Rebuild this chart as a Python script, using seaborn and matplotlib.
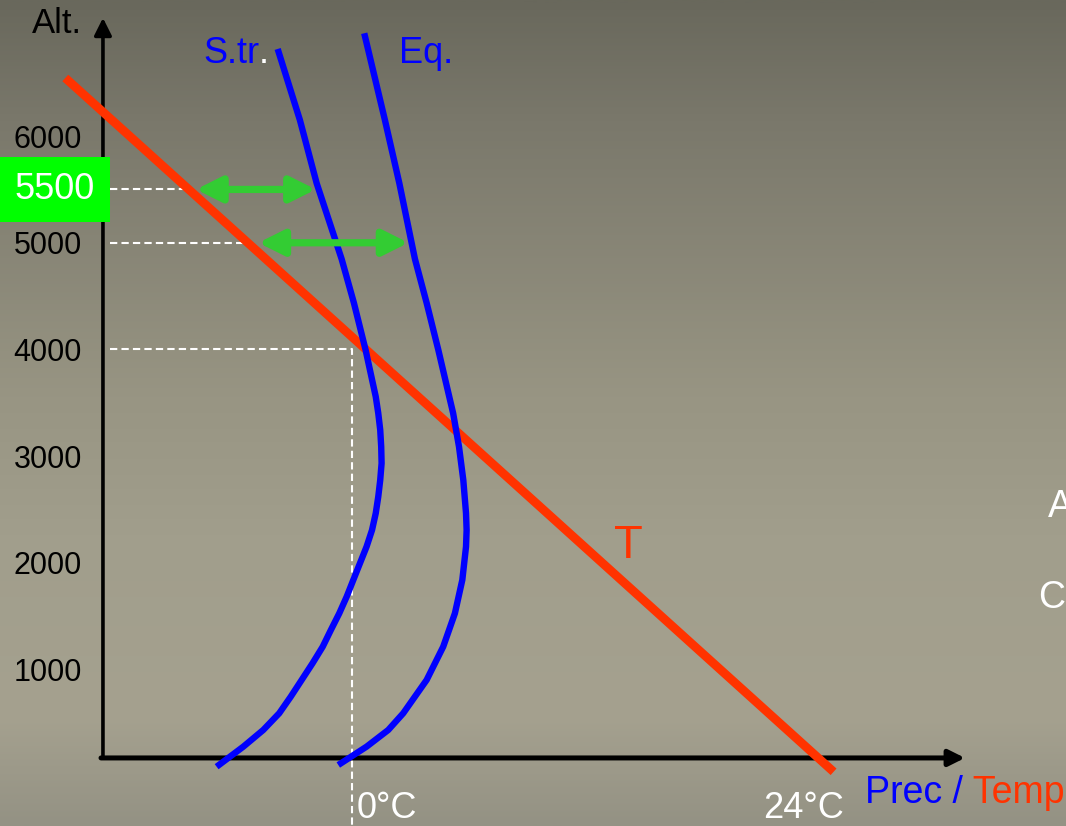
import numpy as np
import matplotlib.pyplot as plt
import seaborn as sns
from matplotlib.colors import LinearSegmentedColormap

sns.set_style('white')
plt.rcParams['font.family'] = ['Liberation Sans', 'DejaVu Sans']

# altitude ticks (m)
alt_ticks = [1000, 2000, 3000, 4000, 5000, 6000]
highlight_alt = 5500

# temperature line T  (x = deg C, y = altitude)
t_line_temp = [-14.7, 24.7]
t_line_alt = [6545, 40]

# precipitation curves (subtropics / equator)
str_x = [-3.81, -2.67, -1.81, -0.53, 0.10, 0.70, 1.22, 1.35, 1.45, 1.50,
         1.52, 1.45, 1.35, 1.22, 1.03, 0.75, 0.41, 0.07, -0.27, -0.65,
         -1.08, -1.50, -2.02, -2.58, -3.14, -3.73, -4.55, -5.57, -6.94]
str_alt = [6817, 6151, 5558, 4848, 4436, 3995, 3557, 3401, 3245, 3088,
           2933, 2776, 2620, 2464, 2307, 2151, 1995, 1839, 1682, 1526,
           1370, 1213, 1058, 901, 744, 589, 432, 276, 88]
eq_x = [0.63, 1.69, 2.43, 3.23, 3.83, 4.43, 4.99, 5.19, 5.49, 5.71,
        5.85, 5.88, 5.85, 5.66, 5.28, 4.68, 3.83, 2.63, 1.86, 0.75, -0.70]
eq_alt = [6964, 6151, 5558, 4848, 4436, 3995, 3557, 3401, 3088, 2776,
          2464, 2307, 2151, 1839, 1526, 1213, 901, 589, 432, 276, 104]

# green double arrows: altitude, start, end
arrow_alt = [5500, 5000]
arrow_from = [-8.0, -4.8]
arrow_to = [-1.85, 2.9]

# dashed guide levels and where they stop
guide_alt = [5500, 5000, 4000]
guide_end = [-8.4, -5.4, 0.0]

# axis frame
x_origin, alt_origin = -12.77, 170
x_end, alt_top = 31.44, 7108
xlim = (-18.05, 36.62)
ylim = (-468, 7276)

red = '#ff3300'
blue = '#0000ff'
green = '#33cc33'

fig = plt.figure(figsize=(10.66, 8.26), dpi=100)
ax = fig.add_axes([0, 0, 1, 1])

# background gradient
bg = LinearSegmentedColormap.from_list('bg', [
    (0.0, '#69685c'), (0.145, '#7a786b'), (0.48, '#989583'),
    (0.65, '#a19e8c'), (0.87, '#a5a18f'), (1.0, '#949284')])
grad = np.linspace(0, 1, 400).reshape(-1, 1)
ax.imshow(grad, cmap=bg, aspect='auto', extent=(xlim[0], xlim[1], ylim[0], ylim[1]),
          origin='upper', zorder=0)

# dashed guides
for a, e in zip(guide_alt, guide_end):
    xs, ys = [x_origin + 0.35, e], [a, a]
    if e == 0.0:
        xs, ys = xs + [0.0], ys + [ylim[0]]
    ax.plot(xs, ys, color='white', lw=1.5, ls=(0, (3.5, 2)), zorder=1.5)

# axes with arrow heads
ax.annotate('', xy=(x_end, alt_origin), xytext=(x_origin - 0.1, alt_origin),
            arrowprops=dict(arrowstyle='-|>', color='black', lw=3.6,
                            mutation_scale=24, shrinkA=0, shrinkB=0), zorder=2)
ax.annotate('', xy=(x_origin, alt_top), xytext=(x_origin, alt_origin),
            arrowprops=dict(arrowstyle='-|>', color='black', lw=2.6,
                            mutation_scale=26, shrinkA=0, shrinkB=0), zorder=2)

# temperature line and precipitation curves
sns.lineplot(x=t_line_temp, y=t_line_alt, sort=False, estimator=None, color=red,
             lw=6.3, solid_capstyle='butt', ax=ax, zorder=3)
for cx, cy in [(str_x, str_alt), (eq_x, eq_alt)]:
    sns.lineplot(x=cx, y=cy, sort=False, estimator=None, color=blue, lw=4.6,
                 solid_capstyle='butt', solid_joinstyle='round', ax=ax, zorder=4)

for a, x0, x1 in zip(arrow_alt, arrow_from, arrow_to):
    ax.annotate('', xy=(x1, a), xytext=(x0, a),
                arrowprops=dict(arrowstyle='<|-|>', color=green, lw=5.2,
                                mutation_scale=38, shrinkA=0, shrinkB=0), zorder=5)

# y tick labels
ax.spines['left'].set_position(('data', x_origin))
for s in ax.spines.values():
    s.set_visible(False)
ax.set_yticks(alt_ticks)
ax.set_yticklabels([str(a) for a in alt_ticks])
ax.tick_params(axis='y', length=0, pad=15, labelsize=22, labelcolor='black')
ax.set_xticks([])

ax.text(-15.23, highlight_alt, str(highlight_alt), color='white', fontsize=26,
        ha='center', va='center', zorder=6,
        bbox=dict(boxstyle='square,pad=0.42', fc='#00ff00', ec='none'))

# labels
ax.text(-16.41, 6967, 'Alt.', color='black', fontsize=25, va='baseline')
t_str = ax.text(-7.64, 6686, 'S.tr', color=blue, fontsize=26, va='baseline')
ax.annotate('.', xy=(1, 0), xycoords=t_str, color='white', fontsize=26,
            va='bottom', ha='left')
ax.text(2.41, 6686, 'Eq.', color=blue, fontsize=26, va='baseline')
ax.text(14.18, 2045, 'T', color=red, fontsize=34, ha='center', va='baseline')
ax.text(1.77, -393, '0°C', color='white', fontsize=26, ha='center', va='baseline')
ax.text(23.15, -393, '24°C', color='white', fontsize=26, ha='center', va='baseline')
t_prec = ax.text(26.31, -252, 'Prec /', color=blue, fontsize=27, va='baseline')
ax.annotate(' Temp', xy=(1, 0), xycoords=t_prec, color=red, fontsize=27,
            va='bottom', ha='left')
ax.text(35.69, 2429, 'A', color='white', fontsize=27, va='baseline')
ax.text(35.18, 1576, 'C', color='white', fontsize=27, va='baseline')

ax.set_xlim(xlim)
ax.set_ylim(ylim)
ax.set_xlabel('')
ax.set_ylabel('')

fig.savefig('out.png', dpi=100)
